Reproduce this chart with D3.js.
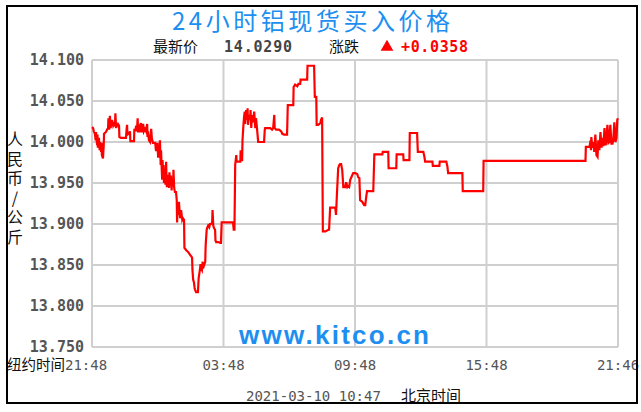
<!DOCTYPE html>
<html>
<head>
<meta charset="utf-8">
<script src="https://cdn.jsdelivr.net/npm/d3@7"></script>
<style>
    body { margin: 0; background: #fff; }
    svg { display: block; }
</style>
</head>
<body>
<div id="chart"></div>
<script>

//******************************************************************************
//**  Data
//******************************************************************************
var title = "24小时铝现货买入价格";
var lastPrice = "14.0290";
var change = "+0.0358";
var unitLabel = "人民币/公斤";
var priceTicks = [14.100, 14.050, 14.000, 13.950, 13.900, 13.850, 13.800, 13.750];
var timeTicks = [0, 360, 720, 1080, 1440]; //minutes after 21:48 (New York)
var timeLabels = ["21:48", "03:48", "09:48", "15:48", "21:46"];
var updated = "2021-03-10 10:47";

//minutes after 21:48
var minutes = [
    0,3,5,8,10,11,14,15,16,19,21,22,25,26,27,30,32,33,38,41,44,45,47,49,51,52,55,58,60,63,
    64,66,68,71,74,75,79,88,90,93,95,96,97,101,104,105,107,112,115,116,118,121,123,125,126,129,132,134,135,137,
    140,142,145,148,151,152,153,156,159,162,164,167,170,173,175,178,179,181,184,186,188,189,192,193,195,196,197,200,201,203,
    204,205,208,211,212,214,216,218,219,222,223,225,227,230,232,233,234,236,238,241,244,247,249,252,253,258,263,269,271,274,
    275,277,279,281,282,285,288,290,292,293,296,297,299,301,303,304,307,310,311,312,314,315,318,321,323,326,329,330,332,334,
    337,338,340,345,351,353,355,359,367,378,386,388,390,392,395,396,400,406,407,408,411,412,414,416,418,419,422,425,426,427,
    430,433,434,436,438,441,444,447,449,452,455,460,469,471,473,474,482,488,493,496,499,500,504,512,518,521,526,532,534,536,
    542,551,552,556,562,565,570,571,578,586,589,590,597,608,610,614,615,619,625,627,630,632,639,647,649,652,660,666,668,671,
    674,677,679,682,685,688,693,696,699,701,704,707,710,715,721,726,729,732,734,740,745,748,751,753,762,770,773,784,795,796,
    811,812,825,833,834,844,852,853,860,869,870,880,890,892,901,907,910,912,921,932,933,943,951,952,962,970,973,975,995,1014,
    1015,1036,1071,1072,1118,1255,1351,1352,1362,1365,1366,1367,1370,1373,1375,1378,1381,1384,1386,1389,1392,1395,1397,1400,1403,1406,1408,1411,1414,1416,
    1419,1422,1425,1427,1430,1433,1436,1438,1440
];

//人民币/公斤
var prices = [
    14.018,14.017,14.013,14.010,14.002,14.012,13.996,14.009,13.993,14.005,13.990,14.000,13.988,13.999,13.984,13.980,13.995,14.010,14.012,14.015,14.017,14.029,14.015,14.032,14.017,14.020,14.027,14.020,14.022,14.020,
    14.035,14.017,14.020,14.022,14.020,14.006,14.005,14.005,14.005,14.005,14.017,14.021,14.009,14.010,14.013,14.001,14.001,14.001,14.001,14.016,14.013,14.020,14.013,14.029,14.013,14.013,14.021,14.023,14.013,14.013,
    14.022,14.013,14.016,14.013,14.022,14.006,14.013,14.002,14.000,14.016,14.004,13.999,13.999,13.999,13.990,13.990,13.999,13.982,13.982,14.002,13.972,13.990,13.954,13.978,13.960,13.972,13.950,13.966,13.948,13.976,
    13.954,13.945,13.960,13.944,13.963,13.948,13.959,13.941,13.954,13.946,13.966,13.944,13.939,13.939,13.929,13.902,13.923,13.911,13.927,13.907,13.917,13.905,13.907,13.905,13.871,13.868,13.866,13.862,13.861,13.859,
    13.844,13.832,13.829,13.822,13.820,13.817,13.817,13.817,13.834,13.837,13.846,13.851,13.846,13.844,13.854,13.846,13.850,13.854,13.872,13.880,13.893,13.895,13.898,13.896,13.900,13.900,13.902,13.917,13.898,13.895,
    13.893,13.880,13.878,13.878,13.877,13.877,13.902,13.902,13.902,13.902,13.902,13.893,13.893,13.972,13.984,13.976,13.976,13.976,13.990,13.978,13.978,14.002,14.017,14.029,14.037,14.022,14.039,14.027,14.041,14.021,
    14.033,14.027,14.039,14.017,14.033,14.024,14.037,14.017,14.029,14.015,14.000,14.000,14.000,14.000,14.015,14.017,14.017,14.017,14.015,14.017,14.033,14.017,14.015,14.015,14.013,14.010,14.009,14.009,14.009,14.045,
    14.045,14.045,14.067,14.070,14.068,14.071,14.071,14.076,14.076,14.076,14.076,14.093,14.093,14.093,14.055,14.055,14.021,14.021,14.023,14.027,14.030,13.891,13.891,13.893,13.893,13.920,13.920,13.920,13.911,13.941,
    13.968,13.972,13.973,13.973,13.966,13.945,13.945,13.951,13.945,13.946,13.945,13.954,13.957,13.962,13.962,13.961,13.957,13.956,13.929,13.927,13.923,13.923,13.934,13.940,13.940,13.940,13.985,13.985,13.985,13.988,
    13.988,13.968,13.968,13.968,13.985,13.985,13.985,13.978,13.978,13.978,14.011,14.011,14.011,13.988,13.988,13.988,13.982,13.976,13.976,13.976,13.971,13.971,13.971,13.976,13.976,13.976,13.970,13.962,13.962,13.962,
    13.940,13.940,13.940,13.977,13.977,13.977,13.977,13.994,13.994,14.002,13.990,14.006,13.993,14.000,13.988,14.009,13.984,13.982,14.002,13.990,14.012,13.993,14.005,13.995,14.017,13.996,14.000,14.021,13.999,14.000,
    14.021,13.998,13.998,14.002,14.024,14.000,14.005,14.027,14.029
];


//******************************************************************************
//**  Chart
//******************************************************************************
var width = 641, height = 412;
var plot = {left: 92, right: 618, top: 60, bottom: 347};
var cjk = "'Noto Sans CJK SC', sans-serif";
var mono = "'DejaVu Sans Mono', monospace";

var svg = d3.select("#chart").append("svg")
    .attr("width", width)
    .attr("height", height);

svg.append("rect")
    .attr("width", width).attr("height", height)
    .attr("fill", "#fff");

var x = d3.scaleLinear().domain([0, 1440]).range([plot.left, plot.right]);
var y = d3.scaleLinear().domain([13.75, 14.1]).range([plot.bottom, plot.top]);


  //**************************************************************************
  //** Grid
  //**************************************************************************
    var grid = svg.append("g")
        .attr("stroke", "#cfcfcf")
        .attr("stroke-width", 2);

    grid.selectAll(".h").data(priceTicks).enter().append("line")
        .attr("x1", plot.left).attr("x2", plot.right)
        .attr("y1", function(d){ return y(d); })
        .attr("y2", function(d){ return y(d); });

    grid.selectAll(".v").data(timeTicks).enter().append("line")
        .attr("y1", plot.top).attr("y2", plot.bottom)
        .attr("x1", function(d){ return x(d); })
        .attr("x2", function(d){ return x(d); });


  //**************************************************************************
  //** Watermark
  //**************************************************************************
    svg.append("text")
        .attr("x", 239).attr("y", 344)
        .attr("font-family", "'Liberation Sans', Arial, sans-serif")
        .attr("font-weight", "bold")
        .attr("font-size", 26)
        .attr("textLength", 190)
        .attr("lengthAdjust", "spacing")
        .attr("fill", "#1e8ff0")
        .text("www.kitco.cn");


  //**************************************************************************
  //** Price line
  //**************************************************************************
    var points = minutes.map(function(m, i){ return [m, prices[i]]; });

    var line = d3.line()
        .x(function(d){ return x(d[0]); })
        .y(function(d){ return y(d[1]); });

    svg.append("path")
        .datum(points)
        .attr("d", line)
        .attr("fill", "none")
        .attr("stroke", "#ff0000")
        .attr("stroke-width", 2.2)
        .attr("stroke-linejoin", "miter");


  //**************************************************************************
  //** Axes labels
  //**************************************************************************
    svg.append("g").selectAll("text").data(priceTicks).enter().append("text")
        .attr("x", 84)
        .attr("y", function(d){ return y(d) + 4.5; })
        .attr("text-anchor", "end")
        .attr("font-family", mono)
        .attr("font-weight", "bold")
        .attr("font-size", 15)
        .attr("fill", "#555")
        .text(function(d){ return d3.format(".3f")(d); });

    svg.append("g").selectAll("text").data(timeTicks.slice(1)).enter().append("text")
        .attr("x", function(d){ return x(d); })
        .attr("y", 370)
        .attr("text-anchor", "middle")
        .attr("font-family", mono)
        .attr("font-size", 14)
        .attr("fill", "#555")
        .text(function(d, i){ return timeLabels[i + 1]; });

    var ny = svg.append("text")
        .attr("x", 7).attr("y", 370);
    ny.append("tspan")
        .attr("font-family", cjk).attr("font-size", 14.5).attr("fill", "#111")
        .text("纽约时间");
    ny.append("tspan")
        .attr("font-family", mono).attr("font-size", 14).attr("fill", "#555")
        .text(timeLabels[0]);

    //vertical unit label
    svg.append("text")
        .attr("x", 15).attr("y", 131)
        .attr("font-family", cjk)
        .attr("font-size", 16)
        .attr("fill", "#111")
        .style("writing-mode", "vertical-rl")
        .style("text-orientation", "upright")
        .style("letter-spacing", "3.5px")
        .text(unitLabel);


  //**************************************************************************
  //** Header
  //**************************************************************************
    svg.append("text")
        .attr("x", 172).attr("y", 30)
        .attr("font-family", cjk)
        .attr("font-size", 24)
        .attr("textLength", 278)
        .attr("lengthAdjust", "spacing")
        .attr("fill", "#1e8ff0")
        .text(title);

    var sub = svg.append("g")
        .attr("font-size", 15);
    sub.append("text").attr("x", 153).attr("y", 52)
        .attr("font-family", cjk).attr("font-size", 15).attr("fill", "#111")
        .text("最新价");
    sub.append("text").attr("x", 224).attr("y", 52)
        .attr("font-family", mono).attr("font-weight", "bold").attr("fill", "#444")
        .attr("textLength", 68)
        .text(lastPrice);
    sub.append("text").attr("x", 329).attr("y", 52)
        .attr("font-family", cjk).attr("font-size", 15).attr("fill", "#111")
        .text("涨跌");
    sub.append("path")
        .attr("d", d3.symbol(d3.symbolTriangle, 70)())
        .attr("transform", "translate(387,47)")
        .attr("fill", "#ff0000");
    sub.append("text").attr("x", 401).attr("y", 52)
        .attr("font-family", mono).attr("font-weight", "bold").attr("fill", "#ff0000")
        .attr("textLength", 67)
        .text(change);


  //**************************************************************************
  //** Footer
  //**************************************************************************
    svg.append("text")
        .attr("x", 246).attr("y", 401)
        .attr("font-family", mono)
        .attr("font-size", 14)
        .attr("fill", "#555")
        .text(updated);

    svg.append("text")
        .attr("x", 401).attr("y", 401)
        .attr("font-family", cjk)
        .attr("font-size", 15)
        .attr("fill", "#111")
        .text("北京时间");


  //**************************************************************************
  //** Frame
  //**************************************************************************
    svg.append("rect")
        .attr("x", 7).attr("y", 6)
        .attr("width", 630).attr("height", 397)
        .attr("fill", "none")
        .attr("stroke", "#000")
        .attr("stroke-width", 2);

</script>
</body>
</html>
